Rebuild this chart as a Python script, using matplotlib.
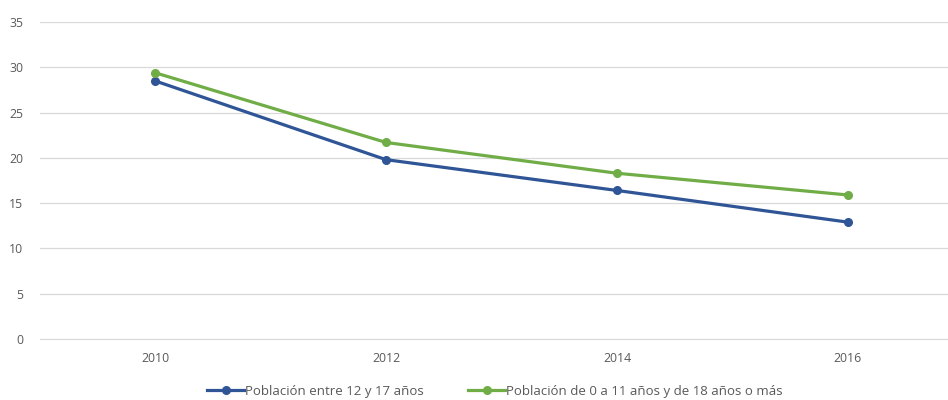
import matplotlib.pyplot as plt

# Data
years = ['2010', '2012', '2014', '2016']
pob_12_17 = [28.5, 19.8, 16.4, 12.9]
pob_resto = [29.4, 21.7, 18.3, 15.9]

label_12_17 = 'Población entre 12 y 17 años'
label_resto = 'Población de 0 a 11 años y de 18 años o más'

plt.rcParams['font.family'] = ['Open Sans', 'DejaVu Sans']

fig = plt.figure(figsize=(9.48, 4.0), dpi=100)
ax = fig.add_axes([40 / 948, 61 / 400, 908 / 948, 317 / 400])

x = range(len(years))
ax.plot(x, pob_12_17, color='#2F5597', linewidth=2.3, marker='o',
        markersize=5.5, label=label_12_17, zorder=3)
ax.plot(x, pob_resto, color='#70AD47', linewidth=2.3, marker='o',
        markersize=5.5, label=label_resto, zorder=3)

ax.set_ylim(0, 35)
ax.set_yticks(range(0, 36, 5))
ax.set_xlim(-0.498, 3.433)
ax.set_xticks(list(x))
ax.set_xticklabels(years)

ax.grid(axis='y', color='#D9D9D9', linewidth=0.9)
ax.set_axisbelow(True)
for s in ['top', 'right', 'left']:
    ax.spines[s].set_visible(False)
ax.spines['bottom'].set_color('#D9D9D9')
ax.tick_params(axis='both', length=0, labelsize=8.8, colors='#595959')
ax.tick_params(axis='y', pad=12)
ax.tick_params(axis='x', pad=9)

leg = fig.legend(loc='lower center', bbox_to_anchor=(0.522, -0.024), ncol=2,
                 frameon=False, fontsize=9.5, handlelength=2.8,
                 handletextpad=0.05, columnspacing=3.4)
for t in leg.get_texts():
    t.set_color('#595959')

fig.savefig('out.png', dpi=100)
